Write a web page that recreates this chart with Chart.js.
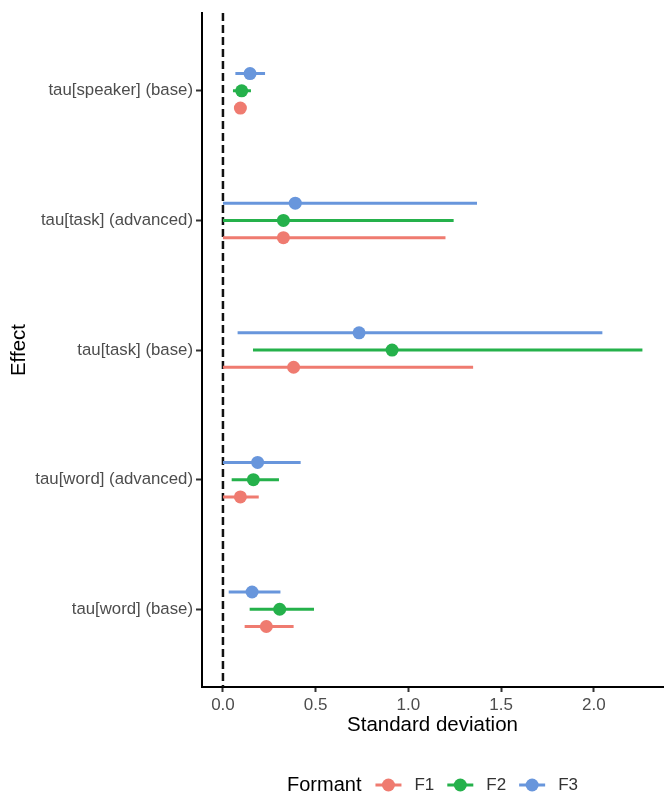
<!DOCTYPE html>
<html>
<head>
<meta charset="utf-8">
<script src="https://cdn.jsdelivr.net/npm/chart.js@4"></script>
<style>
  html, body { margin: 0; background: #fff; }
  #wrap { width: 672px; height: 801px; }
</style>
</head>
<body>
<div id="wrap"><canvas id="chart"></canvas></div>
<script>
// data
const categories = ["tau[speaker] (base)", "tau[task] (advanced)", "tau[task] (base)", "tau[word] (advanced)", "tau[word] (base)"];
const formants = ["F1", "F2", "F3"];

const f1Est = [0.094, 0.326, 0.381, 0.094, 0.234];
const f1Lo  = [0.065, 0.0,   0.0,   0.0,   0.117];
const f1Hi  = [0.125, 1.200, 1.349, 0.193, 0.381];

const f2Est = [0.101, 0.326, 0.912, 0.164, 0.306];
const f2Lo  = [0.054, 0.0,   0.162, 0.047, 0.144];
const f2Hi  = [0.151, 1.244, 2.262, 0.302, 0.491];

const f3Est = [0.146, 0.390, 0.734, 0.187, 0.157];
const f3Lo  = [0.067, 0.0,   0.079, 0.0,   0.031];
const f3Hi  = [0.227, 1.370, 2.046, 0.419, 0.310];

const xTicks = [0, 0.5, 1.0, 1.5, 2.0];
const refLine = [0];

const colors = ["#ef7b70", "#25b14b", "#6896dc"];
const dodge = [0.133, 0, -0.133];   // F1 below, F3 above (y reversed)

const est = [f1Est, f2Est, f3Est];
const lo = [f1Lo, f2Lo, f3Lo];
const hi = [f1Hi, f2Hi, f3Hi];

const datasets = [];

formants.forEach((f, k) => {
  // interval lines, gaps between categories
  const seg = [];
  categories.forEach((c, i) => {
    seg.push({ x: lo[k][i], y: i + dodge[k] });
    seg.push({ x: hi[k][i], y: i + dodge[k] });
    seg.push({ x: hi[k][i], y: null });
  });
  datasets.push({
    label: f + " range",
    data: seg,
    showLine: true,
    spanGaps: false,
    borderColor: colors[k],
    borderWidth: 3,
    pointRadius: 0,
    order: 1
  });
  datasets.push({
    label: f,
    data: est[k].map((v, i) => ({ x: v, y: i + dodge[k] })),
    backgroundColor: colors[k],
    borderWidth: 0,
    pointRadius: 6.5,
    order: 0
  });
});

// dashed zero line
datasets.push({
  label: "zero",
  data: [{ x: refLine[0], y: -0.6 }, { x: refLine[0], y: categories.length - 0.4 }],
  showLine: true,
  borderColor: "#111",
  borderWidth: 2.5,
  borderDash: [8, 4],
  pointRadius: 0,
  order: 2
});

/* Legend drawn at the bottom */
const bottomLegend = {
  id: "bottomLegend",
  afterDraw(chart) {
    const ctx = chart.ctx;
    const y = 785;
    ctx.save();
    ctx.textBaseline = "middle";
    ctx.textAlign = "left";
    ctx.font = "20px 'Liberation Sans', Arial, sans-serif";
    ctx.fillStyle = "#000";
    let x = 287;
    ctx.fillText("Formant", x, y);
    x += ctx.measureText("Formant").width + 14;
    ctx.font = "17px 'Liberation Sans', Arial, sans-serif";
    formants.forEach((f, k) => {
      ctx.strokeStyle = colors[k];
      ctx.lineWidth = 3;
      ctx.beginPath();
      ctx.moveTo(x, y);
      ctx.lineTo(x + 26, y);
      ctx.stroke();
      ctx.fillStyle = colors[k];
      ctx.beginPath();
      ctx.arc(x + 13, y, 6.5, 0, Math.PI * 2);
      ctx.fill();
      x += 26 + 13;
      ctx.fillStyle = "#333";
      ctx.fillText(f, x, y);
      x += ctx.measureText(f).width + 13;
    });
    ctx.restore();
  }
};

const font = "'Liberation Sans', Arial, sans-serif";

new Chart(document.getElementById("chart"), {
  type: "scatter",
  data: { datasets },
  options: {
    responsive: true,
    maintainAspectRatio: false,
    animation: false,
    layout: { padding: { top: 10, right: 9, bottom: 54, left: 0 } },
    plugins: {
      legend: { display: false },
      tooltip: { enabled: false }
    },
    scales: {
      x: {
        type: "linear",
        min: -0.113,
        max: 2.373,
        afterBuildTicks: scale => { scale.ticks = xTicks.map(v => ({ value: v })); },
        afterFit: scale => { scale.height = 60; },
        border: { color: "#000", width: 2 },
        grid: { drawOnChartArea: false, drawTicks: true, tickLength: 5, tickColor: "#333", tickWidth: 2 },
        ticks: {
          padding: 3,
          color: "#4d4d4d",
          font: { family: font, size: 17 },
          callback: v => v.toFixed(1)
        },
        title: {
          display: true,
          text: "Standard deviation",
          color: "#000",
          font: { family: font, size: 20.5 },
          padding: { top: 0, bottom: 9 }
        }
      },
      y: {
        type: "linear",
        reverse: true,
        min: -0.6,
        max: categories.length - 0.4,
        afterBuildTicks: scale => { scale.ticks = categories.map((c, i) => ({ value: i })); },
        afterFit: scale => { scale.width = 202; },
        border: { color: "#000", width: 2 },
        grid: { drawOnChartArea: false, drawTicks: true, tickLength: 6, tickColor: "#333", tickWidth: 2 },
        ticks: {
          padding: 3,
          color: "#4d4d4d",
          font: { family: font, size: 16.8 },
          callback: v => categories[v]
        },
        title: {
          display: true,
          text: "Effect",
          color: "#000",
          font: { family: font, size: 20.5 },
          padding: { top: 7, bottom: 0 }
        }
      }
    }
  },
  plugins: [bottomLegend]
});
</script>
</body>
</html>
